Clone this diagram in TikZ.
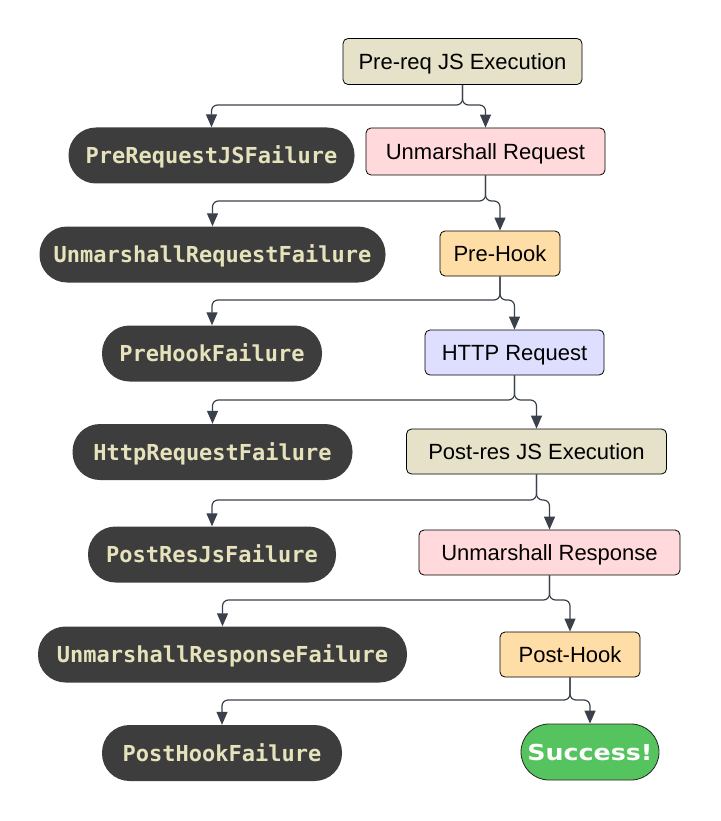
\documentclass[tikz,border=0pt]{standalone}
\usepackage{fontspec}
\setmainfont{Liberation Sans}
\newfontfamily\failfont{DejaVu Sans Mono}
\newfontfamily\succfont[FakeStretch=1.15]{DejaVu Sans}
\usetikzlibrary{arrows.meta}
\definecolor{cbeige}{HTML}{E6E1C9}
\definecolor{cpink}{HTML}{FFD9DB}
\definecolor{corange}{HTML}{FFDDA6}
\definecolor{clav}{HTML}{DEDEFF}
\definecolor{failgray}{HTML}{3D3D3D}
\definecolor{failtext}{HTML}{E6E2BC}
\definecolor{cgreen}{HTML}{55C45E}
\definecolor{connc}{HTML}{3B414B}
\tikzset{
  proc/.style={draw=black, line width=0.8pt, rounded corners=5pt, inner sep=0pt,
    text height=15.8pt, text depth=0pt,
    text=black, font=\fontsize{22}{26}\selectfont},
  fail/.style={fill=failgray, draw=none, rounded corners=27.5pt, inner sep=0pt,
    text height=16pt, text depth=0pt,
    minimum height=56pt, text=failtext, font=\failfont\bfseries\fontsize{22}{26}\selectfont},
  succ/.style={fill=cgreen, draw=black!85, line width=0.8pt, rounded corners=28pt, inner sep=0pt,
    text height=16pt, text depth=0pt,
    minimum height=56pt, minimum width=138pt, text=white, font=\succfont\bfseries\fontsize{22}{26}\selectfont},
  conn/.style={draw=connc, line width=1.2pt, rounded corners=6pt,
    -{Triangle[length=13pt,width=11pt]}}
}
\begin{document}
\begin{tikzpicture}[x=1pt,y=-1pt]
\useasboundingbox (0,0) rectangle (720,821);
% process nodes
\node[proc, fill=cbeige, minimum width=239pt, minimum height=46pt] (n1) at (462.5,61.5) {Pre-req JS Execution};
\node[proc, fill=cpink, minimum width=239pt, minimum height=47pt] (n2) at (485.5,151.5) {Unmarshall Request};
\node[proc, fill=corange, minimum width=120pt, minimum height=45pt] (n3) at (500,253.5) {Pre-Hook};
\node[proc, fill=clav, minimum width=179pt, minimum height=45pt] (n4) at (514.5,352.5) {HTTP Request};
\node[proc, fill=cbeige, minimum width=260pt, minimum height=45pt] (n5) at (536.5,451.5) {Post-res JS Execution};
\node[proc, fill=cpink, minimum width=261pt, minimum height=45pt] (n6) at (549.5,552.5) {Unmarshall Response};
\node[proc, fill=corange, minimum width=140pt, minimum height=45pt] (n7) at (570,654.5) {Post-Hook};
\node[succ] (ok) at (590,752) {Success!};
% failure nodes
\node[fail, minimum width=286pt] (f1) at (211.5,155.5) {PreRequestJSFailure};
\node[fail, minimum width=346pt] (f2) at (212.5,254.5) {UnmarshallRequestFailure};
\node[fail, minimum width=220pt] (f3) at (212,353.5) {PreHookFailure};
\node[fail, minimum width=280pt] (f4) at (212.5,452) {HttpRequestFailure};
\node[fail, minimum width=248pt] (f5) at (212,554.5) {PostResJsFailure};
\node[fail, minimum width=369pt] (f6) at (222.5,654.5) {UnmarshallResponseFailure};
\node[fail, minimum width=240pt] (f7) at (222,753) {PostHookFailure};
% branch points
\coordinate (b1) at (0,105);
\coordinate (b2) at (0,201);
\coordinate (b3) at (0,300);
\coordinate (b4) at (0,400);
\coordinate (b5) at (0,500);
\coordinate (b6) at (0,600);
\coordinate (b7) at (0,700);
% connectors
\draw[conn] (n1.south) -- (n1.south |- b1) -| (f1.north);
\draw[conn] (n1.south) -- (n1.south |- b1) -| (n2.north);
\draw[conn] (n2.south) -- (n2.south |- b2) -| (f2.north);
\draw[conn] (n2.south) -- (n2.south |- b2) -| (n3.north);
\draw[conn] (n3.south) -- (n3.south |- b3) -| (f3.north);
\draw[conn] (n3.south) -- (n3.south |- b3) -| (n4.north);
\draw[conn] (n4.south) -- (n4.south |- b4) -| (f4.north);
\draw[conn] (n4.south) -- (n4.south |- b4) -| (n5.north);
\draw[conn] (n5.south) -- (n5.south |- b5) -| (f5.north);
\draw[conn] (n5.south) -- (n5.south |- b5) -| (n6.north);
\draw[conn] (n6.south) -- (n6.south |- b6) -| (f6.north);
\draw[conn] (n6.south) -- (n6.south |- b6) -| (n7.north);
\draw[conn] (n7.south) -- (n7.south |- b7) -| (f7.north);
\draw[conn] (n7.south) -- (n7.south |- b7) -| (ok.north);
\end{tikzpicture}
\end{document}
